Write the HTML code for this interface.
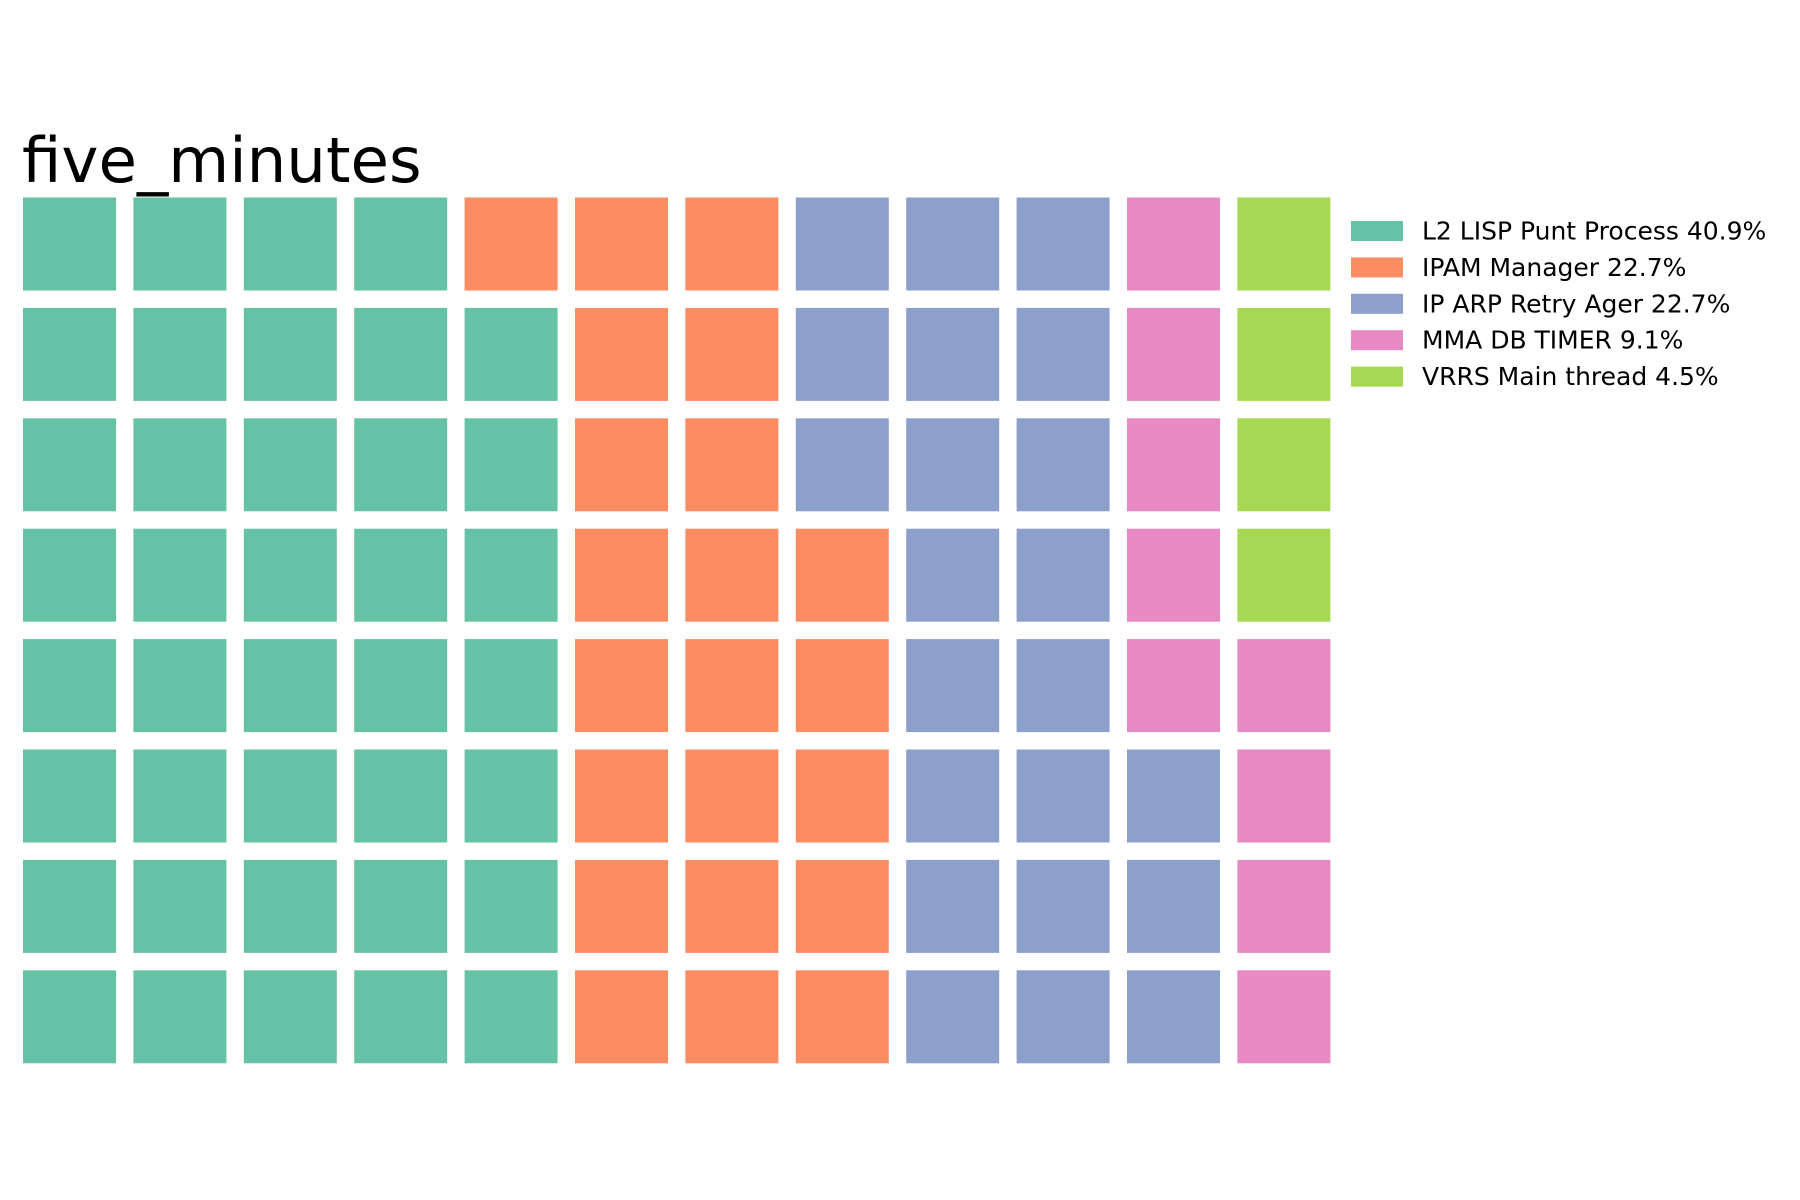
<!DOCTYPE html>
<html><head><meta charset="utf-8"><style>
html,body{margin:0;padding:0;background:#fff;}
svg{display:block;font-family:"DejaVu Sans","Liberation Sans",sans-serif;}
</style></head><body>
<svg id="chart" width="1800" height="1200" viewBox="0 0 1800 1200" xmlns="http://www.w3.org/2000/svg">
<text x="22" y="182" font-size="62.6" fill="#000">five_minutes</text>
<g id="cells"></g>
<g id="legend"></g>
</svg>
<script>
const categories = ["L2 LISP Punt Process","IPAM Manager","IP ARP Retry Ager","MMA DB TIMER","VRRS Main thread"];
const values = [9,5,5,2,1];
const colors = ["#66c2a5","#fc8d62","#8da0cb","#e78ac3","#a6d854"];
const nCols = 12, nRows = 8;

const NS="http://www.w3.org/2000/svg";
const x0=23, y0=197.5, cell=93, pitch=110.4;
const total = values.reduce((a,b)=>a+b,0);
const nCells = nCols*nRows;
const counts = values.map(v=>Math.round(v/total*nCells));
function colX(c){return x0+c*pitch;}
function rowY(rFromBottom){return y0+(nRows-1-rFromBottom)*pitch;}
const cg=document.getElementById('cells');
let idx=0;
counts.forEach((n,ci)=>{
  for(let k=0;k<n;k++){
    if(idx>=nCells) break;
    const c=Math.floor(idx/nRows), r=idx%nRows;
    const rect=document.createElementNS(NS,'rect');
    rect.setAttribute('x',colX(c));rect.setAttribute('y',rowY(r));
    rect.setAttribute('width',cell);rect.setAttribute('height',cell);
    rect.setAttribute('fill',colors[ci]);
    
    
    cg.appendChild(rect);
    idx++;
  }
});
const lg=document.getElementById('legend');
categories.forEach((name,i)=>{
  const cy=231+i*36.4;
  const g=document.createElementNS(NS,'g');
  
  
  const p=document.createElementNS(NS,'rect');
  p.setAttribute('x',1351);p.setAttribute('y',cy-10);p.setAttribute('width',52);p.setAttribute('height',20);
  p.setAttribute('fill',colors[i]);
  
  
  const t=document.createElementNS(NS,'text');
  t.setAttribute('x',1422);t.setAttribute('y',cy+8.5);t.setAttribute('font-size',25);t.setAttribute('fill','#000');
  t.textContent=name+' '+(values[i]/total*100).toFixed(1)+'%';
  
  
  g.appendChild(p);g.appendChild(t);lg.appendChild(g);
});
</script>
</body></html>
